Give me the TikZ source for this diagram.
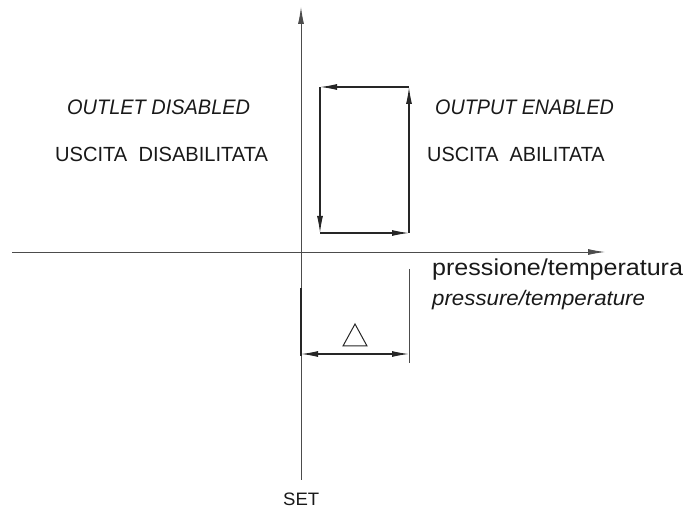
\documentclass[tikz,border=0pt]{standalone}
\usepackage{fontspec}
\setmainfont{Liberation Sans}
\usetikzlibrary{arrows.meta}
\tikzset{
  axis/.style={draw=black!70, line width=0.9pt},
  loop/.style={draw=black!85, line width=1.2pt},
  ext/.style={draw=black!70, line width=0.9pt},
  tip/.style={-{Latex[length=17pt,width=6pt]}},
  lbl/.style={inner sep=0pt, anchor=base west, text=black!90},
}
\newcommand{\sx}[2]{\scalebox{#1}[1]{#2}}
\begin{document}
\begin{tikzpicture}[x=1pt,y=-1pt]
\useasboundingbox (0,0) rectangle (683,510);
% axes
\coordinate (vb) at (301,480);
\coordinate (vt) at (301,7);
\coordinate (hl) at (12,252);
\coordinate (hr) at (605,252);
\draw[axis,tip] (vb) -- (vt);
\draw[axis,tip] (hl) -- (hr);
% hysteresis loop
\coordinate (tl) at (320,87);
\coordinate (tr) at (409,87);
\coordinate (bl) at (320,233);
\coordinate (br) at (409,233);
\draw[loop,tip] (tr) -- (tl);
\draw[loop,tip] (tl) -- (bl);
\draw[loop,tip] (bl) -- (br);
\draw[loop,tip] (br) -- (tr);
% dimension
\coordinate (e1a) at (301,288);
\coordinate (e1b) at (301,356);
\coordinate (e2a) at (409,269);
\coordinate (e2b) at (409,363);
\coordinate (d1) at (301,354);
\coordinate (d2) at (409,354);
\coordinate (dm) at (355,354);
\draw[loop] (e1a) -- (e1b);
\draw[ext] (e2a) -- (e2b);
\draw[loop,tip] (dm) -- (d1);
\draw[loop,tip] (dm) -- (d2);
\draw[loop, line width=1pt] (343,346) -- (355,324) -- (367,346) -- cycle;
% labels
\node[lbl] (od) at (67,115) {\fontsize{21}{24}\selectfont\itshape\sx{0.95}{OUTLET DISABLED}};
\node[lbl] (ud) at (55,162) {\fontsize{20.5}{24}\selectfont\sx{0.98}{USCITA\ \ DISABILITATA}};
\node[lbl] (oe) at (435,115) {\fontsize{21}{24}\selectfont\itshape\sx{0.94}{OUTPUT ENABLED}};
\node[lbl] (ue) at (427,162) {\fontsize{20.5}{24}\selectfont\sx{0.97}{USCITA\ \ ABILITATA}};
\node[lbl] (pt) at (432,276) {\fontsize{23}{26}\selectfont\sx{1.09}{pressione/temperatura}};
\node[lbl] (pe) at (432,306) {\fontsize{21}{24}\selectfont\itshape\sx{1.06}{pressure/temperature}};
\node[lbl] (set) at (283,505) {\fontsize{18}{20}\selectfont\sx{1.03}{SET}};
\end{tikzpicture}
\end{document}
